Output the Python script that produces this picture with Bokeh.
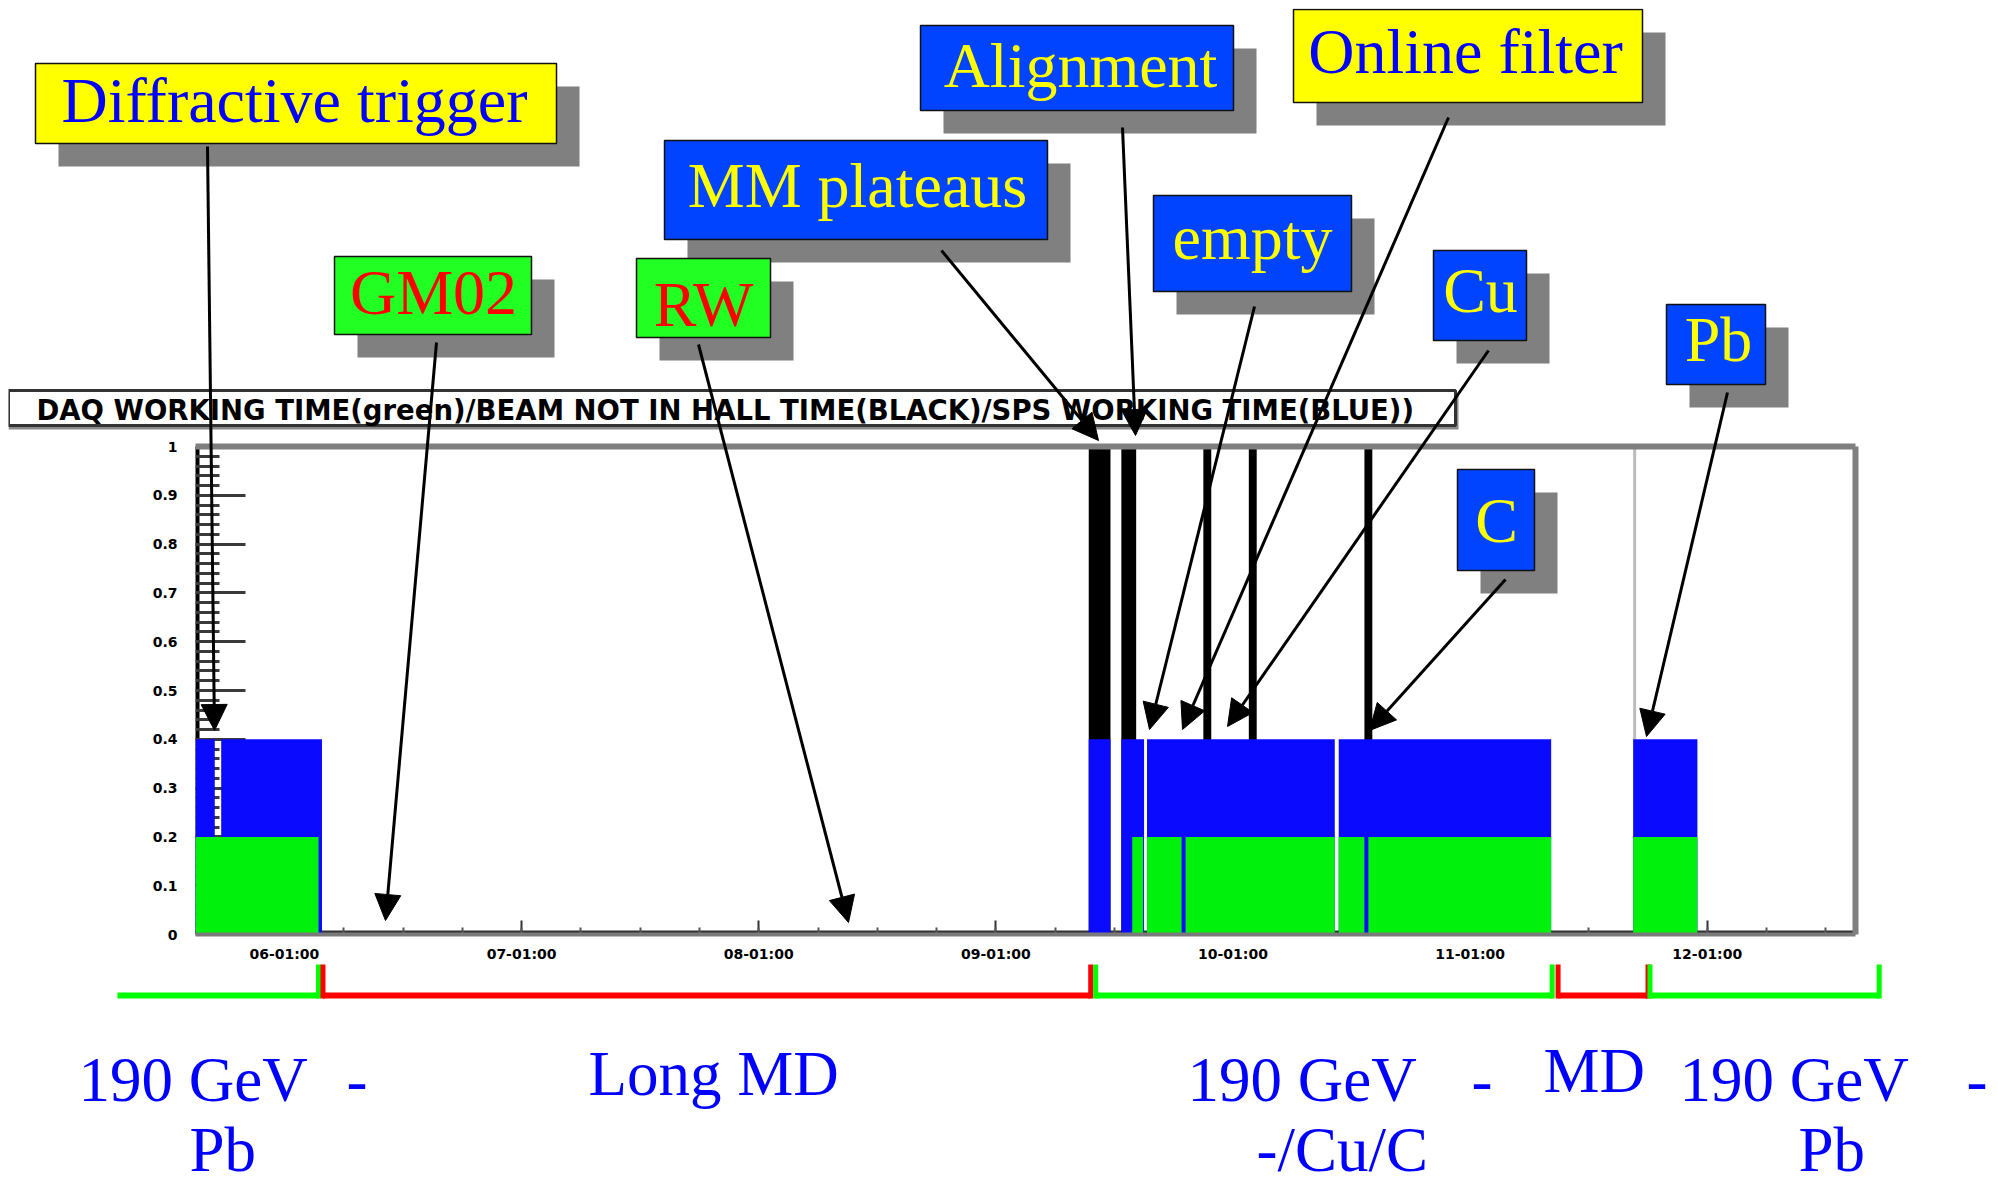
from bokeh.plotting import figure
from bokeh.models import (FixedTicker, LinearAxis, Range1d, BoxAnnotation, Label,
                          Arrow, NormalHead, ColumnDataSource)
from bokeh.embed import file_html
from bokeh.resources import INLINE

# ---------------- data (time axis in hours since day 06, 00:00) ----------------
x_tick_hours = [1, 25, 49, 73, 97, 121, 145]
x_tick_labels = ["06-01:00", "07-01:00", "08-01:00", "09-01:00",
                 "10-01:00", "11-01:00", "12-01:00"]
y_ticks = [0, 0.1, 0.2, 0.3, 0.4, 0.5, 0.6, 0.7, 0.8, 0.9, 1]
y_tick_labels = ["0", "0.1", "0.2", "0.3", "0.4", "0.5", "0.6", "0.7", "0.8", "0.9", "1"]

# SPS working time (blue), level 0.4
sps_start = [-8.0, -5.4, 82.4, 85.7, 88.3, 107.7, 137.5]
sps_end = [-6.05, 4.8, 84.6, 88.0, 107.3, 129.2, 144.0]
sps_level = 0.4
# DAQ working time (green), level 0.2
daq_start = [-8.0, 86.8, 88.3, 92.2, 107.7, 110.7, 137.5]
daq_end = [4.45, 87.9, 91.8, 107.3, 110.3, 129.2, 144.0]
daq_level = 0.2
# Beam not in hall (black), level 1
nobeam_start = [82.4, 85.7, 94.0, 98.6, 110.3]
nobeam_end = [84.6, 87.2, 94.8, 99.4, 111.1]
nobeam_level = 1.0
# thin grey marker line
gray_start = [137.5]
gray_end = [137.8]

# run periods shown below the axis (hours), colour
period_start = [-15.9, 4.9, 83.1, 129.9, 139.2]
period_end = [4.45, 82.6, 129.3, 139.0, 162.4]
period_color = ["#00ff00", "#ff0000", "#00ff00", "#ff0000", "#00ff00"]
period_left_tick = [False, True, True, True, True]

TITLE = "DAQ WORKING TIME(green)/BEAM NOT IN HALL TIME(BLACK)/SPS WORKING TIME(BLUE))"

# ---------------- layout ----------------
W, H = 1982, 1169                           # chart canvas
W_OV, H_OV = 1990, 1177                     # callout canvas (up to the window edge)
FL, FR, FT, FB = 187, 1847, 438, 926       # frame edges on the canvas
X0, X1 = -8, 160
OFF = 8                                     # page margin
TEXT_SHIFT = 0.36                           # baseline correction (fraction of font size)
POS = {"position": "absolute", "top": f"{OFF}px", "left": f"{OFF}px"}

p = figure(width=W, height=H, x_range=Range1d(X0, X1), y_range=Range1d(0, 1),
           output_backend="svg", toolbar_location=None, title=None,
           min_border_left=FL, min_border_right=W - FR,
           min_border_top=FT, min_border_bottom=H - FB,
           styles=dict(POS, **{"z-index": "1"}))
p.outline_line_color = None
p.xgrid.visible = False
p.ygrid.visible = False
p.background_fill_color = "white"
p.border_fill_color = "white"

# bars
p.quad(left="l", right="r", bottom=0, top=nobeam_level,
       source=ColumnDataSource(dict(l=nobeam_start, r=nobeam_end)),
       fill_color="#000000", line_color=None)
p.quad(left="l", right="r", bottom=0, top=1.0,
       source=ColumnDataSource(dict(l=gray_start, r=gray_end)),
       fill_color="#bbbbbb", line_color=None)
p.quad(left="l", right="r", bottom=0, top=sps_level,
       source=ColumnDataSource(dict(l=sps_start, r=sps_end)),
       fill_color="#0a0aff", line_color=None)
p.quad(left="l", right="r", bottom=0, top=daq_level,
       source=ColumnDataSource(dict(l=daq_start, r=daq_end)),
       fill_color="#00f20c", line_color=None)

x_ticker = FixedTicker(ticks=x_tick_hours, minor_ticks=list(range(-5, 160, 6)))
y_ticker = FixedTicker(ticks=y_ticks, minor_ticks=[round(i * 0.02, 2) for i in range(51)])

# tick axes (drawn under the bars, clipped to the frame)
xa = p.xaxis[0]
xa.ticker = x_ticker
xa.major_label_text_color = None
xa.major_label_text_font_size = "0px"
xa.major_label_standoff = 0
xa.major_tick_in = 14
xa.major_tick_out = 0
xa.minor_tick_in = 7
xa.minor_tick_out = 0
xa.major_tick_line_color = "#333333"
xa.minor_tick_line_color = "#555555"
xa.major_tick_line_width = 2
xa.minor_tick_line_width = 2
xa.axis_line_color = "#333333"
xa.axis_line_width = 8
xa.level = "underlay"

ya = p.yaxis[0]
ya.ticker = y_ticker
ya.major_label_text_color = None
ya.major_label_text_font_size = "0px"
ya.major_label_standoff = 0
ya.major_tick_in = 50
ya.major_tick_out = 0
ya.minor_tick_in = 24
ya.minor_tick_out = 0
ya.major_tick_line_color = "#3a3a3a"
ya.minor_tick_line_color = "#3a3a3a"
ya.major_tick_line_width = 3
ya.minor_tick_line_width = 3
ya.axis_line_color = "black"
ya.axis_line_width = 8
ya.level = "underlay"

# label axes (on top, no ticks)
xl = LinearAxis(ticker=x_ticker,
                major_label_overrides={h: t for h, t in zip(x_tick_hours, x_tick_labels)},
                major_tick_line_color=None, minor_tick_line_color=None,
                axis_line_color="#7a7a7a", axis_line_width=4,
                major_label_standoff=5, major_label_text_font="DejaVu Sans",
                major_label_text_font_style="bold", major_label_text_font_size="14px",
                major_label_text_color="black")
p.add_layout(xl, "below")
yl = LinearAxis(ticker=y_ticker,
                major_label_overrides={v: t for v, t in zip(y_ticks, y_tick_labels)},
                major_tick_line_color=None, minor_tick_line_color=None,
                axis_line_color=None,
                major_label_standoff=12, major_label_text_font="DejaVu Sans",
                major_label_text_font_style="bold", major_label_text_font_size="14px",
                major_label_text_color="black")
p.add_layout(yl, "left")

for side in ("above", "right"):
    ax = LinearAxis(ticker=FixedTicker(ticks=[]), axis_line_color="#7f7f7f",
                    axis_line_width=6, major_tick_line_color=None,
                    minor_tick_line_color=None, major_label_text_font_size="0px",
                    major_label_text_color=None)
    p.add_layout(ax, side)

# ---------------- overlay canvas for the callouts (pixel coordinates) ----------------
ov = figure(width=W_OV, height=H_OV, x_range=Range1d(0, W_OV), y_range=Range1d(H_OV, 0),
            output_backend="svg", toolbar_location=None, title=None,
            x_axis_location=None, y_axis_location=None, min_border=0,
            styles=dict(POS, **{"z-index": "10"}))
ov.outline_line_color = None
ov.background_fill_alpha = 0
ov.border_fill_alpha = 0
for g in ov.grid:
    g.visible = False


def cx(px):          # screenshot px -> overlay x
    return px - OFF


def cy(py):          # screenshot px -> overlay y
    return py - OFF


def hour_px(h):      # hours -> screenshot px
    return OFF + FL + (h - X0) * (FR - FL) / (X1 - X0)


def box(x0, x1, y0, y1, fill, line=None, lw=1):
    ov.add_layout(BoxAnnotation(left=cx(x0), right=cx(x1), top=cy(y0), bottom=cy(y1),
                                fill_color=fill, fill_alpha=1.0,
                                line_color=line, line_width=lw, line_alpha=1.0))


def text(t, x, base, size, color, font, align="left", style="normal"):
    ov.add_layout(Label(x=cx(x), y=cy(base) - TEXT_SHIFT * size, text=t,
                        text_font=font, text_font_style=style,
                        text_font_size=f"{size}px", text_color=color,
                        text_align=align, text_baseline="alphabetic"))


# title box
box(8, 1458, 393, 429, "#8a8a8a")
box(8, 1455, 390, 425, "white", "#333333", 3)
text(TITLE, 36, 419, 27.5, "black", "DejaVu Sans", style="bold")

STYLES = {"yellow": ("#ffff00", "#0000ff"),
          "green": ("#22ff22", "#ff0000"),
          "blue": ("#0044ff", "#ffff00")}
notes = [
    ("Diffractive trigger", 35, 556, 63, 143, 294, 123, "yellow"),
    ("GM02", 334, 531, 256, 334, 433, 315, "green"),
    ("RW", 636, 770, 258, 337, 703, 327, "green"),
    ("MM plateaus", 664, 1047, 140, 239, 857, 208, "blue"),
    ("Alignment", 920, 1233, 25, 110, 1080, 88, "blue"),
    ("Online filter", 1293, 1642, 9, 102, 1465, 74, "yellow"),
    ("empty", 1153, 1351, 195, 291, 1252, 260, "blue"),
    ("Cu", 1433, 1526, 250, 340, 1480, 313, "blue"),
    ("Pb", 1666, 1765, 304, 384, 1718, 362, "blue"),
    ("C", 1457, 1534, 469, 570, 1496, 543, "blue"),
]
SH = 23
for t, x0, x1, y0, y1, tx, by, st in notes:
    box(x0 + SH, x1 + SH, y0 + SH, y1 + SH, "#808080")
for t, x0, x1, y0, y1, tx, by, st in notes:
    fill, tcol = STYLES[st]
    box(x0, x1, y0, y1, fill, "#111111", 1.5)
    text(t, tx, by, 64, tcol, "Liberation Serif", align="center")

arrows = [
    (207, 146, 214, 730),
    (436, 342, 385, 920),
    (698, 344, 848, 922),
    (941, 250, 1098, 440),
    (1122, 127, 1135, 435),
    (1448, 117, 1182, 729),
    (1254, 306, 1149, 729),
    (1488, 350, 1227, 726),
    (1505, 579, 1369, 730),
    (1727, 392, 1646, 736),
]
for xs, ys, xe, ye in arrows:
    ov.add_layout(Arrow(x_start=cx(xs), y_start=cy(ys), x_end=cx(xe), y_end=cy(ye),
                        line_color="black", line_width=3,
                        end=NormalHead(size=26, fill_color="black", line_color="black",
                                       line_width=1)))

BR_Y = cy(995)
TICK_Y = cy(964)
for s, e, c, lt in zip(period_start, period_end, period_color, period_left_tick):
    xs, xe = cx(hour_px(s)), cx(hour_px(e))
    ov.add_layout(Arrow(x_start=xs, y_start=BR_Y, x_end=xe, y_end=BR_Y, end=None,
                        line_color=c, line_width=6))
    ov.add_layout(Arrow(x_start=xe, y_start=BR_Y + 3, x_end=xe, y_end=TICK_Y, end=None,
                        line_color=c, line_width=5))
    if lt:
        ov.add_layout(Arrow(x_start=xs, y_start=BR_Y + 3, x_end=xs, y_end=TICK_Y, end=None,
                            line_color=c, line_width=5))

captions = [
    ("190 GeV", 78, 1102), ("-", 346, 1103), ("Pb", 189, 1172),
    ("Long MD", 588, 1096),
    ("190 GeV", 1187, 1102), ("-", 1471, 1103), ("-/Cu/C", 1256, 1172),
    ("MD", 1543, 1093),
    ("190 GeV", 1679, 1102), ("-", 1966, 1103), ("Pb", 1798, 1172),
]
for t, x, y in captions:
    text(t, x, y, 63, "#0000ff", "Liberation Serif")

open("out.html", "w").write(file_html([p, ov], INLINE))
